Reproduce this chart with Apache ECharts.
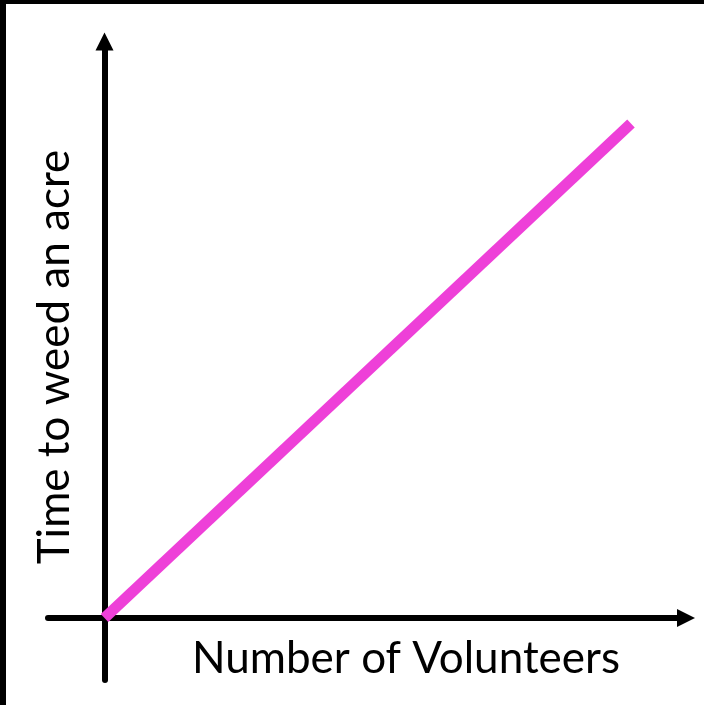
<!DOCTYPE html>
<html>
<head>
<meta charset="utf-8">
<script src="https://cdn.jsdelivr.net/npm/echarts@6/dist/echarts.min.js"></script>
<style>
html,body{margin:0;padding:0;background:#fff;}
#c{width:704px;height:705px;}
</style>
</head>
<body>
<div id="c"></div>
<script>
// Data
const volunteers = [0, 10];
const timeToWeed = [0, 10];
const xAxisTitle = 'Number of Volunteers';
const yAxisTitle = 'Time to weed an acre';
const xRange = [-1.073, 11.045];
const yRange = [-1.254, 11.658];

const chart = echarts.init(document.getElementById('c'), null, {renderer: 'canvas'});
const axisCommon = {
  type: 'value',
  axisLine: {
    show: true,
    onZero: true,
    symbol: ['none', 'triangle'],
    symbolSize: [18, 18],
    lineStyle: {color: '#000', width: 6}
  },
  axisTick: {show: false},
  axisLabel: {show: false},
  splitLine: {show: false}
};
chart.setOption({
  backgroundColor: '#fff',
  animation: false,
  grid: {left: 48, right: 18, top: 41.5, bottom: 25, containLabel: false},
  xAxis: Object.assign({}, axisCommon, {min: xRange[0], max: xRange[1]}),
  yAxis: Object.assign({}, axisCommon, {min: yRange[0], max: yRange[1]}),
  series: [{
    type: 'line',
    data: volunteers.map((v, i) => [v, timeToWeed[i]]),
    symbol: 'none',
    lineStyle: {color: '#ee40d8', width: 11, cap: 'butt'},
    z: 1
  }],
  graphic: [
    {type: 'rect', left: 0, top: 0, shape: {width: 704, height: 4}, style: {fill: '#000'}, silent: true},
    {type: 'rect', left: 0, top: 0, shape: {width: 6, height: 705}, style: {fill: '#000'}, silent: true},
    {
      type: 'text', x: 406, y: 637,
      style: {text: xAxisTitle, font: '44px Lato', fill: '#000', align: 'center', verticalAlign: 'top'}
    },
    {
      type: 'text', x: 33, y: 357, rotation: Math.PI / 2,
      style: {text: yAxisTitle, font: '44px Lato', fill: '#000', align: 'center', verticalAlign: 'top'}
    }
  ]
});
</script>
</body>
</html>
